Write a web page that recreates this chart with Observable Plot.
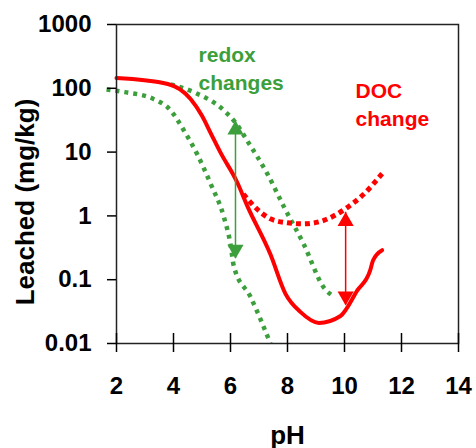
<!DOCTYPE html>
<html>
<head>
<meta charset="utf-8">
<script src="https://cdn.jsdelivr.net/npm/d3@7"></script>
<script src="https://cdn.jsdelivr.net/npm/@observablehq/plot@0.6"></script>
<style>
  html, body { margin: 0; padding: 0; background: #fff; }
</style>
</head>
<body>
<div id="chart"></div>
<script>
// ---- data ----
const xTicks = [2, 4, 6, 8, 10, 12, 14];
const yTicks = [0.01, 0.1, 1, 10, 100, 1000];
const yTickLabels = ["0.01", "0.1", "1", "10", "100", "1000"];

// red solid curve (pH, leached mg/kg)
const redPH  = [2.0, 3.8, 4.6, 5.0, 5.3, 5.65, 6.23, 6.6, 7.4, 7.93, 8.46, 9.1, 9.86, 10.45, 10.9, 11.0, 11.32];
const redVal = [145, 117, 68, 37, 20, 9.8, 3.4, 1.4, 0.25, 0.06, 0.031, 0.021, 0.027, 0.068, 0.14, 0.2, 0.29];

// red dotted curve (DOC change)
const docPH  = [6.45, 7.0, 7.4, 8.0, 8.56, 9.27, 10.04, 10.68, 11.32];
const docVal = [2.2, 1.2, 0.9, 0.78, 0.75, 0.85, 1.3, 2.2, 4.6];

// green dotted upper curve
const gUpPH  = [3.9, 4.71, 5.77, 6.2, 6.59, 7.29, 7.87, 8.57, 9.27, 9.63];
const gUpVal = [115, 87, 45, 28, 15, 4.6, 1.4, 0.36, 0.076, 0.054];

// green dotted lower curve
const gLoPH  = [1.65, 2.3, 3.3, 3.9, 4.36, 4.83, 5.3, 5.77, 6.0, 6.12, 6.7, 7.4];
const gLoVal = [96, 87, 68, 45, 22, 9.3, 3.2, 0.95, 0.36, 0.16, 0.054, 0.01];

// arrows: pH, top tip, bottom tip
const arrowNames = ["redox", "DOC"];
const arrowPH  = [6.175, 10.04];
const arrowTop = [31, 1.14];
const arrowBot = [0.215, 0.040];

// annotation texts
const noteTexts = ["redox\nchanges", "DOC\nchange"];
const notePH    = [4.88, 10.39];
const noteVal   = [528, 144];

const GREEN = "#3c9f3c";
const RED = "#ff0000";
const toPts = (xs, ys) => xs.map((x, i) => ({x, y: ys[i]}));

const red = toPts(redPH, redVal);
const doc = toPts(docPH, docVal);
const gUp = toPts(gUpPH, gUpVal);
const gLo = toPts(gLoPH, gLoVal);
const arrows = arrowNames.map((n, i) => ({n, x: arrowPH[i], top: arrowTop[i], bot: arrowBot[i], c: i === 0 ? GREEN : RED}));
const notes = noteTexts.map((t, i) => ({t, x: notePH[i], y: noteVal[i], c: i === 0 ? GREEN : RED}));

const chart = Plot.plot({
  width: 476,
  height: 448,
  marginLeft: 116,
  marginRight: 18,
  marginTop: 24,
  marginBottom: 105,
  style: {fontFamily: "'Liberation Sans', Arial, sans-serif", background: "#fff", color: "#000"},
  x: {domain: [2, 14]},
  y: {type: "log", domain: [0.01, 1000]},
  marks: [
    Plot.line(gLo, {x: "x", y: "y", stroke: GREEN, strokeWidth: 4.5, strokeDasharray: "4,5", strokeLinecap: "butt", strokeLinejoin: "miter", curve: "monotone-x"}),
    Plot.line(gUp, {x: "x", y: "y", stroke: GREEN, strokeWidth: 4.5, strokeDasharray: "4,5", strokeLinecap: "butt", strokeLinejoin: "miter", curve: "monotone-x"}),
    Plot.line(doc, {x: "x", y: "y", stroke: RED, strokeWidth: 5, strokeDasharray: "5,4", strokeLinecap: "butt", strokeLinejoin: "miter", curve: "monotone-x"}),
    Plot.line(red, {x: "x", y: "y", stroke: RED, strokeWidth: 4, curve: "monotone-x"}),
    Plot.ruleX(arrows, {x: "x", y1: "top", y2: "bot", stroke: "c", strokeWidth: 1.5}),
    Plot.dot(arrows, {x: "x", y: "top", symbol: "triangle", r: 6, fill: "c", stroke: null, dy: 9}),
    Plot.dot(arrows, {x: "x", y: "bot", symbol: "triangle", r: 6, fill: "c", stroke: null, rotate: 180, dy: -9}),
    Plot.text(notes, {x: "x", y: "y", text: "t", fill: "c", textAnchor: "start", lineAnchor: "top", lineHeight: 1.33, fontSize: 21, fontWeight: "bold"}),
    Plot.frame({stroke: "#222", strokeWidth: 1.5}),
    Plot.axisY({ticks: yTicks, tickFormat: d => yTickLabels[yTicks.indexOf(d)], tickSize: 9, tickPadding: 16, fontSize: 24, fontWeight: "bold", label: null, strokeWidth: 1.5}),
    Plot.axisX({ticks: xTicks, tickSize: 0, tickPadding: 33, fontSize: 24, fontWeight: "bold", label: null}),
    Plot.tickX(xTicks, {x: d => d, insetTop: 309, insetBottom: -9, stroke: "#000", strokeWidth: 1.5}),
    Plot.text(["pH"], {frameAnchor: "bottom", dy: 100, lineAnchor: "bottom", fontSize: 26, fontWeight: "bold", text: d => d}),
    Plot.text(["Leached (mg/kg)"], {frameAnchor: "left", dx: -83, dy: 18, rotate: -90, textAnchor: "middle", lineAnchor: "bottom", fontSize: 26, fontWeight: "bold", text: d => d})
  ]
});
document.getElementById("chart").appendChild(chart);
</script>
</body>
</html>
